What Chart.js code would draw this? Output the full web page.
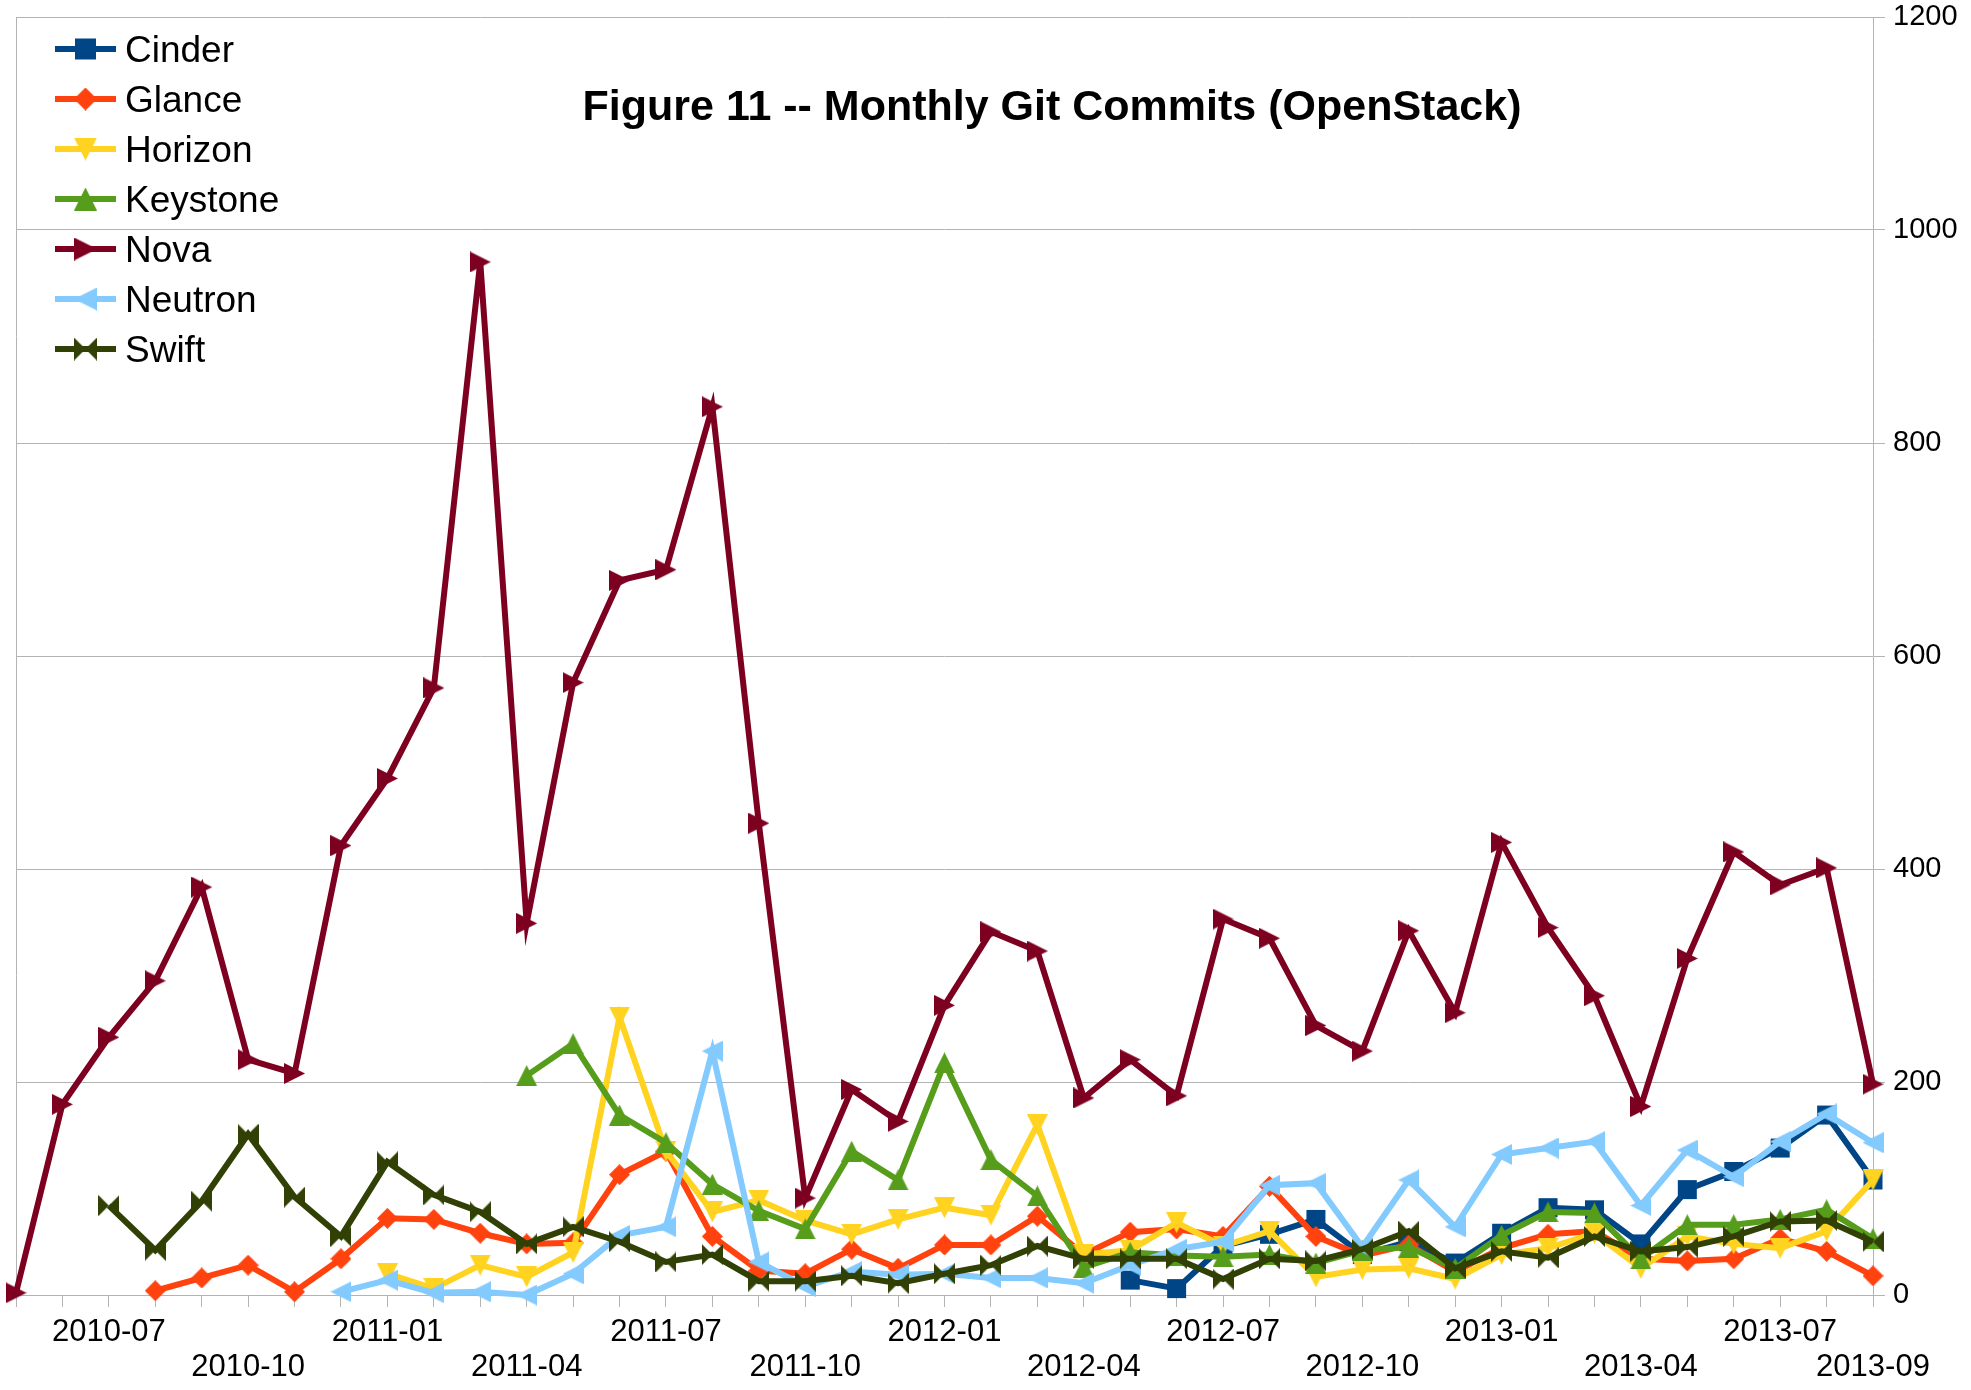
<!DOCTYPE html>
<html>
<head>
<meta charset="utf-8">
<title>Figure 11 -- Monthly Git Commits (OpenStack)</title>
<script src="https://cdn.jsdelivr.net/npm/chart.js@4/dist/chart.umd.min.js"></script>
<style>
  html, body { margin: 0; padding: 0; background: #fff; }
  #chart-wrap { width: 1971px; height: 1390px; }
</style>
</head>
<body>
<div id="chart-wrap"><canvas id="myChart" width="1971" height="1390"></canvas></div>
<script>
const titleText = 'Figure 11 -- Monthly Git Commits (OpenStack)';

const months = [
  '2010-05','2010-06','2010-07','2010-08','2010-09','2010-10','2010-11','2010-12',
  '2011-01','2011-02','2011-03','2011-04','2011-05','2011-06','2011-07','2011-08','2011-09','2011-10','2011-11','2011-12',
  '2012-01','2012-02','2012-03','2012-04','2012-05','2012-06','2012-07','2012-08','2012-09','2012-10','2012-11','2012-12',
  '2013-01','2013-02','2013-03','2013-04','2013-05','2013-06','2013-07','2013-08','2013-09'
];

// labels actually printed under the axis, alternating between two rows
const tickLabels = [
  '2010-07','2010-10','2011-01','2011-04','2011-07','2011-10','2012-01',
  '2012-04','2012-07','2012-10','2013-01','2013-04','2013-07','2013-09'
];

const cinder = [
  null,null,null,null,null,null,null,null,null,null,null,null,
  null,null,null,null,null,null,null,null,null,null,null,null,
  14,6,46,57,71,38,50,30,58,82,80,48,99,116,138,169,108
];
const glance = [
  null,null,null,
  4,16,28,3,34,72,71,58,48,49,113,135,55,23,20,43,25,47,47,74,
  38,59,62,55,102,55,37,47,22,44,57,60,34,32,34,53,41,18
];
const horizon = [
  null,null,null,null,null,null,null,null,
  20,6,28,17,40,261,135,78,89,70,57,71,82,75,160,
  38,42,68,46,60,17,24,25,15,38,44,58,25,55,48,44,60,108
];
const keystone = [
  null,null,null,null,null,null,null,null,null,null,null,
  206,236,169,143,104,79,62,135,108,218,127,93,
  26,40,37,36,38,30,42,45,25,56,78,77,34,66,66,71,80,53
];
const nova = [
  2,179,242,295,383,221,208,422,485,570,970,349,575,671,681,834,443,91,193,163,
  272,341,323,185,221,187,353,335,253,229,342,265,425,345,281,177,316,416,385,401,198
];
const neutron = [
  null,null,null,null,null,null,null,
  3,14,2,3,0,20,56,64,229,31,8,22,19,20,16,16,
  11,28,43,50,103,105,45,108,64,132,138,144,84,136,111,144,170,143
];
const swift = [
  null,null,
  84,42,88,151,92,55,125,94,78,48,64,50,31,38,13,13,18,11,20,28,46,
  34,34,34,15,34,32,43,60,25,41,35,55,41,45,55,69,70,50
];

const seriesNames = ['Cinder','Glance','Horizon','Keystone','Nova','Neutron','Swift'];
const seriesData = [cinder, glance, horizon, keystone, nova, neutron, swift];
const seriesColors = ['#004586','#ff420e','#ffd320','#579d1c','#7e0021','#83caff','#314004'];
const seriesMarkers = ['square','diamond','down','up','right','left','bowtie'];

const fontFamily = '"Liberation Sans", Arial, Helvetica, sans-serif';
const gridColor = '#b3b3b3';

function makeMarker(kind, color, s) {
  var c = document.createElement('canvas');
  c.width = s; c.height = s;
  var g = c.getContext('2d');
  g.fillStyle = color;
  g.beginPath();
  if (kind === 'square') {
    g.rect(1, 1, s - 2, s - 2);
  } else if (kind === 'diamond') {
    g.moveTo(s / 2, 0); g.lineTo(s, s / 2); g.lineTo(s / 2, s); g.lineTo(0, s / 2);
  } else if (kind === 'down') {
    g.moveTo(0, 0); g.lineTo(s, 0); g.lineTo(s / 2, s);
  } else if (kind === 'up') {
    g.moveTo(s / 2, 0); g.lineTo(s, s); g.lineTo(0, s);
  } else if (kind === 'right') {
    g.moveTo(0, 0); g.lineTo(s, s / 2); g.lineTo(0, s);
  } else if (kind === 'left') {
    g.moveTo(s, 0); g.lineTo(0, s / 2); g.lineTo(s, s);
  } else if (kind === 'bowtie') {
    g.moveTo(0, 0); g.lineTo(s / 2, s / 2); g.lineTo(0, s); g.closePath();
    g.moveTo(s, 0); g.lineTo(s / 2, s / 2); g.lineTo(s, s);
  }
  g.closePath();
  g.fill();
  return c;
}

const pointIcons = seriesMarkers.map((m, i) => makeMarker(m, seriesColors[i], 21));
const legendIcons = seriesMarkers.map((m, i) => makeMarker(m, seriesColors[i], 23));

// title and legend sit inside the plot area in the original
const overlayPlugin = {
  id: 'overlay',
  afterDraw(chart) {
    const ctx = chart.ctx;
    const area = chart.chartArea;
    ctx.save();
    ctx.fillStyle = '#000';
    ctx.font = 'bold 43px ' + fontFamily;
    ctx.textAlign = 'center';
    ctx.textBaseline = 'alphabetic';
    ctx.fillText(titleText, 1052, 120);

    ctx.font = '37px ' + fontFamily;
    ctx.textAlign = 'left';
    chart.data.datasets.forEach((ds, i) => {
      const y = area.top + 32 + i * 50;
      const x0 = area.left + 39;
      ctx.strokeStyle = ds.borderColor;
      ctx.lineWidth = 6;
      ctx.beginPath();
      ctx.moveTo(x0, y);
      ctx.lineTo(x0 + 61, y);
      ctx.stroke();
      const icon = legendIcons[i];
      ctx.drawImage(icon, x0 + 30.5 - icon.width / 2, y - icon.height / 2);
      ctx.fillStyle = '#000';
      ctx.fillText(ds.label, x0 + 70, y + 13);
    });
    ctx.restore();
  }
};

const datasets = seriesNames.map((name, i) => ({
  label: name,
  data: seriesData[i],
  borderColor: seriesColors[i],
  backgroundColor: seriesColors[i],
  borderWidth: 6,
  tension: 0,
  fill: false,
  spanGaps: false,
  clip: false,
  pointStyle: pointIcons[i],
  pointRadius: 10,
  pointHoverRadius: 10,
  pointBorderWidth: 0,
  order: seriesNames.length - i
}));

var context = document.getElementById('myChart');
var myChart = new Chart(context, {
  type: 'line',
  data: {
    labels: months,
    datasets: datasets
  },
  options: {
    responsive: false,
    animation: false,
    devicePixelRatio: 1,
    layout: { padding: { left: 16, top: 17, right: 0, bottom: 0 } },
    plugins: {
      legend: { display: false },
      title: { display: false },
      tooltip: { enabled: false }
    },
    scales: {
      x: {
        type: 'category',
        offset: false,
        grid: {
          display: true,
          drawOnChartArea: true,
          color: (c) => c.index === 0 ? gridColor : 'rgba(0,0,0,0)',
          tickColor: gridColor,
          tickLength: 12,
          lineWidth: 1
        },
        border: { display: true, color: gridColor, width: 1 },
        ticks: {
          autoSkip: false,
          maxRotation: 0,
          minRotation: 0,
          padding: 7,
          color: '#000',
          font: { family: fontFamily, size: 31, lineHeight: 1.16 },
          callback: function (value, index) {
            const lbl = months[index];
            const k = tickLabels.indexOf(lbl);
            if (k < 0) return '';
            return k % 2 === 0 ? [lbl] : ['', lbl];
          }
        },
        afterFit: function (scale) { scale.height = 95; }
      },
      y: {
        position: 'right',
        min: 0,
        max: 1200,
        grid: { color: gridColor, tickColor: gridColor, tickLength: 12, lineWidth: 1 },
        border: { display: true, color: gridColor, width: 1 },
        ticks: {
          stepSize: 200,
          padding: 8,
          color: '#000',
          font: { family: fontFamily, size: 29, lineHeight: 0.55 },
          callback: function (value) { return String(value); }
        },
        afterFit: function (scale) { scale.width = 98; }
      }
    }
  },
  plugins: [overlayPlugin]
});
</script>
</body>
</html>
